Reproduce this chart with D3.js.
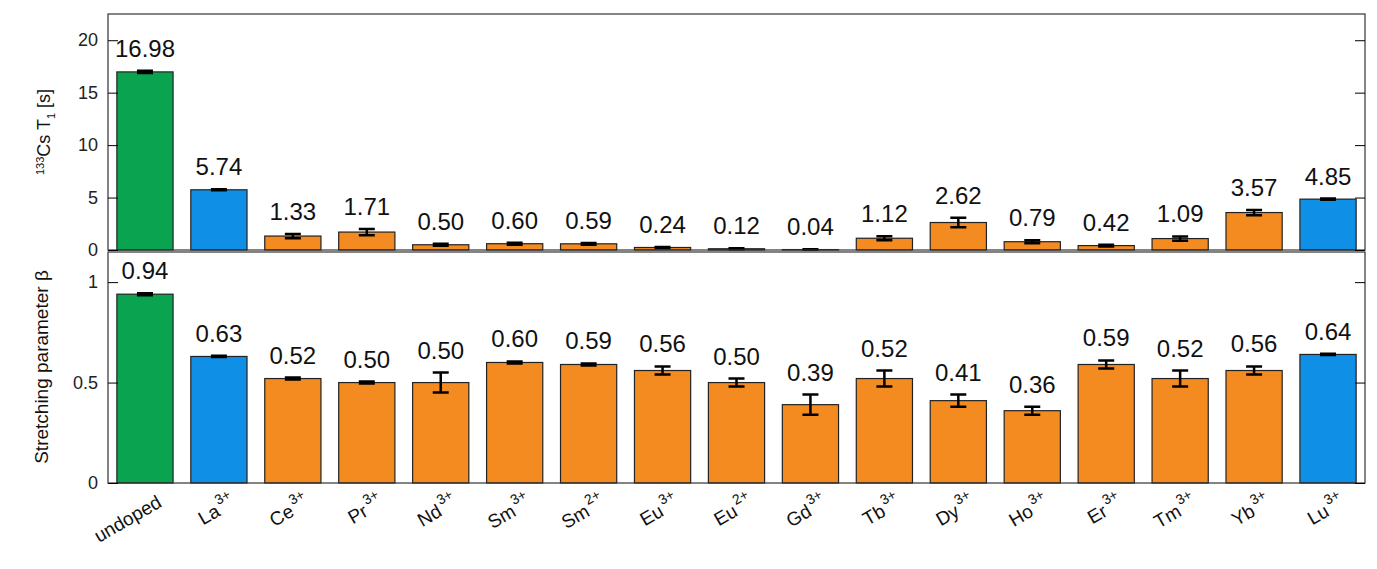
<!DOCTYPE html>
<html><head><meta charset="utf-8">
<script src="https://cdn.jsdelivr.net/npm/d3@7"></script>
<style>body{margin:0;background:#fff;font-family:"Liberation Sans",Arial,sans-serif}</style>
</head><body><svg id="c" width="1377" height="569"></svg>
<script>
const ions = ["undoped","La","Ce","Pr","Nd","Sm","Sm","Eu","Eu","Gd","Tb","Dy","Ho","Er","Tm","Yb","Lu"];
const charges = ["","3+","3+","3+","3+","3+","2+","3+","2+","3+","3+","3+","3+","3+","3+","3+","3+"];
const kinds = ["undoped","ref","para","para","para","para","para","para","para","para","para","para","para","para","para","para","ref"];
const t1 = [16.98,5.74,1.33,1.71,0.50,0.60,0.59,0.24,0.12,0.04,1.12,2.62,0.79,0.42,1.09,3.57,4.85];
const t1Err = [0.1,0.04,0.2,0.3,0.1,0.1,0.08,0.05,0.05,0.02,0.2,0.45,0.15,0.08,0.2,0.25,0.05];
const beta = [0.94,0.63,0.52,0.50,0.50,0.60,0.59,0.56,0.50,0.39,0.52,0.41,0.36,0.59,0.52,0.56,0.64];
const betaErr = [0.005,0.003,0.005,0.005,0.05,0.005,0.005,0.02,0.02,0.05,0.04,0.03,0.02,0.02,0.04,0.02,0.003];
const t1Ticks = [0,5,10,15,20];
const betaTicks = [0,0.5,1];
const colors = {undoped:"#0aa34f", ref:"#0f8fe6", para:"#f38b21"};

const svg = d3.select("#c");
const L = 108, R = 1365;
const x = d3.scaleBand().domain(d3.range(ions.length)).range([L,R]).paddingInner(0.24).paddingOuter(0.12);

function panel(top, bottom, vals, errs, domTop, ticks, fmt) {
  const y = d3.scaleLinear().domain([0,domTop]).range([bottom,top]);
  const g = svg.append("g");
  g.selectAll("rect.b").data(vals).join("rect")
    .attr("x",(d,i)=>x(i)).attr("width",x.bandwidth())
    .attr("y",d=>y(d)).attr("height",d=>y(0)-y(d))
    .attr("fill",(d,i)=>colors[kinds[i]]).attr("stroke","#222").attr("stroke-width",1.2);
  vals.forEach((d,i)=>{
    const cx = x(i)+x.bandwidth()/2, e = errs[i];
    g.append("path").attr("d",`M${cx},${y(d-e)}V${y(d+e)}M${cx-8},${y(d-e)}H${cx+8}M${cx-8},${y(d+e)}H${cx+8}`)
      .attr("stroke","#000").attr("stroke-width",2.5).attr("fill","none");
    g.append("text").attr("x",cx).attr("y",y(d+e)-14).attr("text-anchor","middle")
      .attr("font-size",24).attr("fill","#111").text(fmt(d));
  });
  g.append("rect").attr("x",L).attr("y",top).attr("width",R-L).attr("height",bottom-top)
    .attr("fill","none").attr("stroke","#333").attr("stroke-width",1.2);
  g.append("g").attr("transform",`translate(${L},0)`)
    .call(d3.axisLeft(y).tickValues(ticks).tickSize(-10).tickPadding(10).tickFormat(d3.format("")))
    .call(a=>a.select(".domain").remove())
    .call(a=>a.selectAll("text").attr("font-size",18).attr("font-family","Liberation Sans,Arial").attr("fill","#222"));
  g.append("g").attr("transform",`translate(${R},0)`)
    .call(d3.axisRight(y).tickValues(ticks).tickSize(-10).tickFormat(""))
    .call(a=>a.select(".domain").remove());
  return y;
}

panel(14, 250, t1, t1Err, 22.5, t1Ticks, d=>d.toFixed(2));
panel(252, 483, beta, betaErr, 1.15, betaTicks, d=>d.toFixed(2));

// y labels
const yl1 = svg.append("text").attr("transform","translate(50,132) rotate(-90)").attr("text-anchor","middle").attr("font-size",18).attr("fill","#111");
yl1.append("tspan").attr("font-size",11).attr("dy",-6).text("133");
yl1.append("tspan").attr("dy",6).text("Cs T");
yl1.append("tspan").attr("font-size",11).attr("dy",5).text("1");
yl1.append("tspan").attr("dy",-5).text(" [s]");
svg.append("text").attr("transform","translate(48,367) rotate(-90)").attr("text-anchor","middle")
  .attr("font-size",19).attr("fill","#111").text("Stretching parameter \u03b2");

// x tick labels
ions.forEach((n,i)=>{
  const cx = x(i)+x.bandwidth()/2;
  const t = svg.append("text").attr("transform",`translate(${cx+18},${506}) rotate(-30)`)
    .attr("text-anchor","end").attr("font-size",19).attr("fill","#111");
  t.append("tspan").text(n);
  if (charges[i]) t.append("tspan").attr("font-size",14).attr("dy",-10).attr("dx",2).text(charges[i]);
});
</script></body></html>
